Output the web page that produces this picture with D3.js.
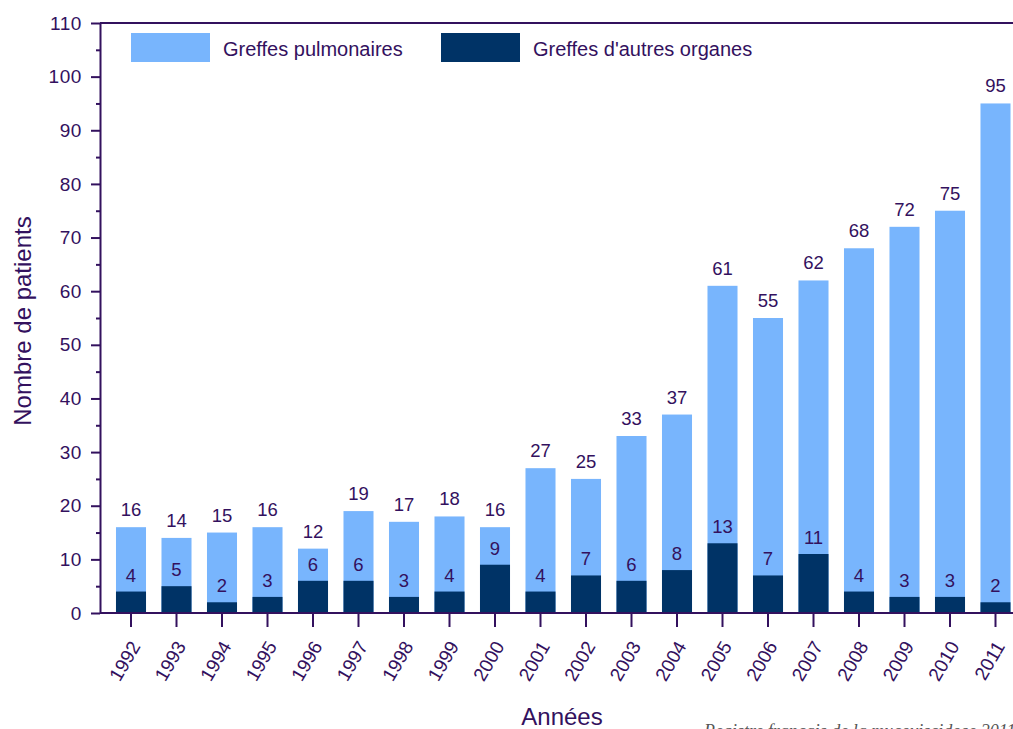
<!DOCTYPE html>
<html>
<head>
<meta charset="utf-8">
<script src="https://cdn.jsdelivr.net/npm/d3@7"></script>
<style>
  html, body { margin: 0; padding: 0; background: #ffffff; }
  svg { display: block; }
  text { font-family: Arial, "Liberation Sans", sans-serif; fill: #33115e; }
</style>
</head>
<body>
<svg id="chart" width="1013" height="729"></svg>
<script>
const years = ["1992","1993","1994","1995","1996","1997","1998","1999","2000","2001","2002","2003","2004","2005","2006","2007","2008","2009","2010","2011"];
const lungValues = [16,14,15,16,12,19,17,18,16,27,25,33,37,61,55,62,68,72,75,95];
const otherValues = [4,5,2,3,6,6,3,4,9,4,7,6,8,13,7,11,4,3,3,2];
const yTicks = [0,10,20,30,40,50,60,70,80,90,100,110];
const yMinorTicks = [5,15,25,35,45,55,65,75,85,95,105];
const seriesNames = ["Greffes pulmonaires", "Greffes d'autres organes"];
const yTitle = "Nombre de patients";
const xTitle = "Années";
const source = "Registre français de la mucoviscidose 2011";

(function () {
const lightColor = "#78b5fd";
const darkColor = "#003366";
const axisColor = "#33115e";

const svg = d3.select("#chart");
const pLeft = 100, pTop = 23, pBottom = 613, pRight = 1013;

const x = d3.scaleBand().domain(years).range([108.25, 1018.25]).paddingInner(0.34).paddingOuter(0.17);
const y = d3.scaleLinear().domain([0, 110]).range([pBottom, pTop]);

// Frame top line
svg.append("line").attr("x1", pLeft).attr("x2", pRight).attr("y1", pTop).attr("y2", pTop)
  .attr("stroke", axisColor).attr("stroke-width", 2);

// Bars
const g = svg.append("g");
g.selectAll("rect.lung").data(years).join("rect")
  .attr("x", d => x(d)).attr("width", x.bandwidth())
  .attr("y", (d, i) => y(lungValues[i])).attr("height", (d, i) => y(0) - y(lungValues[i]))
  .attr("fill", lightColor);
g.selectAll("rect.other").data(years).join("rect")
  .attr("x", d => x(d)).attr("width", x.bandwidth())
  .attr("y", (d, i) => y(otherValues[i])).attr("height", (d, i) => y(0) - y(otherValues[i]))
  .attr("fill", darkColor);

// Labels
g.selectAll("text.lunglab").data(years).join("text")
  .attr("x", d => x(d) + x.bandwidth() / 2).attr("y", (d, i) => y(lungValues[i]) - 11)
  .attr("text-anchor", "middle").attr("font-size", 18.5)
  .text((d, i) => lungValues[i]);
g.selectAll("text.othlab").data(years).join("text")
  .attr("x", d => x(d) + x.bandwidth() / 2).attr("y", (d, i) => y(otherValues[i]) - 10)
  .attr("text-anchor", "middle").attr("font-size", 18.5)
  .text((d, i) => otherValues[i]);

// Y axis
const yAxis = svg.append("g").attr("transform", `translate(${pLeft},0)`)
  .call(d3.axisLeft(y).tickValues(yTicks).tickSize(9).tickPadding(9).tickSizeOuter(0));
yAxis.select(".domain").attr("stroke", axisColor).attr("stroke-width", 2);
yAxis.selectAll(".tick line").attr("stroke", axisColor).attr("stroke-width", 2);
yAxis.selectAll(".tick text").attr("font-size", 19).attr("fill", axisColor)
  .attr("letter-spacing", 0.6)
  .style("font-family", "Arial, 'Liberation Sans', sans-serif");
const yMinor = svg.append("g").attr("transform", `translate(${pLeft},0)`)
  .call(d3.axisLeft(y).tickValues(yMinorTicks).tickSize(4).tickFormat(""));
yMinor.select(".domain").remove();
yMinor.selectAll(".tick line").attr("stroke", axisColor).attr("stroke-width", 2);

// X axis
const xAxis = svg.append("g").attr("transform", `translate(0,${pBottom})`)
  .call(d3.axisBottom(x).tickSize(14).tickSizeOuter(0).tickFormat(""));
xAxis.select(".domain").attr("d", `M${pLeft},0H${pRight}`).attr("stroke", axisColor).attr("stroke-width", 2);
xAxis.selectAll(".tick line").attr("stroke", axisColor).attr("stroke-width", 2);

svg.append("g").selectAll("text").data(years).join("text")
  .attr("text-anchor", "end").attr("font-size", 19)
  .attr("transform", d => `translate(${x(d) + x.bandwidth() / 2 + 10},646) rotate(-60)`)
  .text(d => d);

// Titles
svg.append("text").attr("transform", "translate(31,321) rotate(-90)")
  .attr("text-anchor", "middle").attr("font-size", 24).text(yTitle);
svg.append("text").attr("x", 562).attr("y", 725)
  .attr("text-anchor", "middle").attr("font-size", 24).text(xTitle);
svg.append("text").attr("x", 704).attr("y", 737)
  .attr("font-size", 18).attr("font-style", "italic")
  .style("font-family", "'Liberation Serif', 'DejaVu Serif', serif").style("fill", "#555555")
  .text(source);

// Legend
const legendX = [131, 441];
const legendColors = [lightColor, darkColor];
const leg = svg.append("g");
leg.selectAll("rect").data(seriesNames).join("rect")
  .attr("x", (d, i) => legendX[i]).attr("y", 33).attr("width", 79).attr("height", 29)
  .attr("fill", (d, i) => legendColors[i]);
leg.selectAll("text").data(seriesNames).join("text")
  .attr("x", (d, i) => legendX[i] + 92).attr("y", 56)
  .attr("font-size", 20)
  .text(d => d);
})();
</script>
</body>
</html>
